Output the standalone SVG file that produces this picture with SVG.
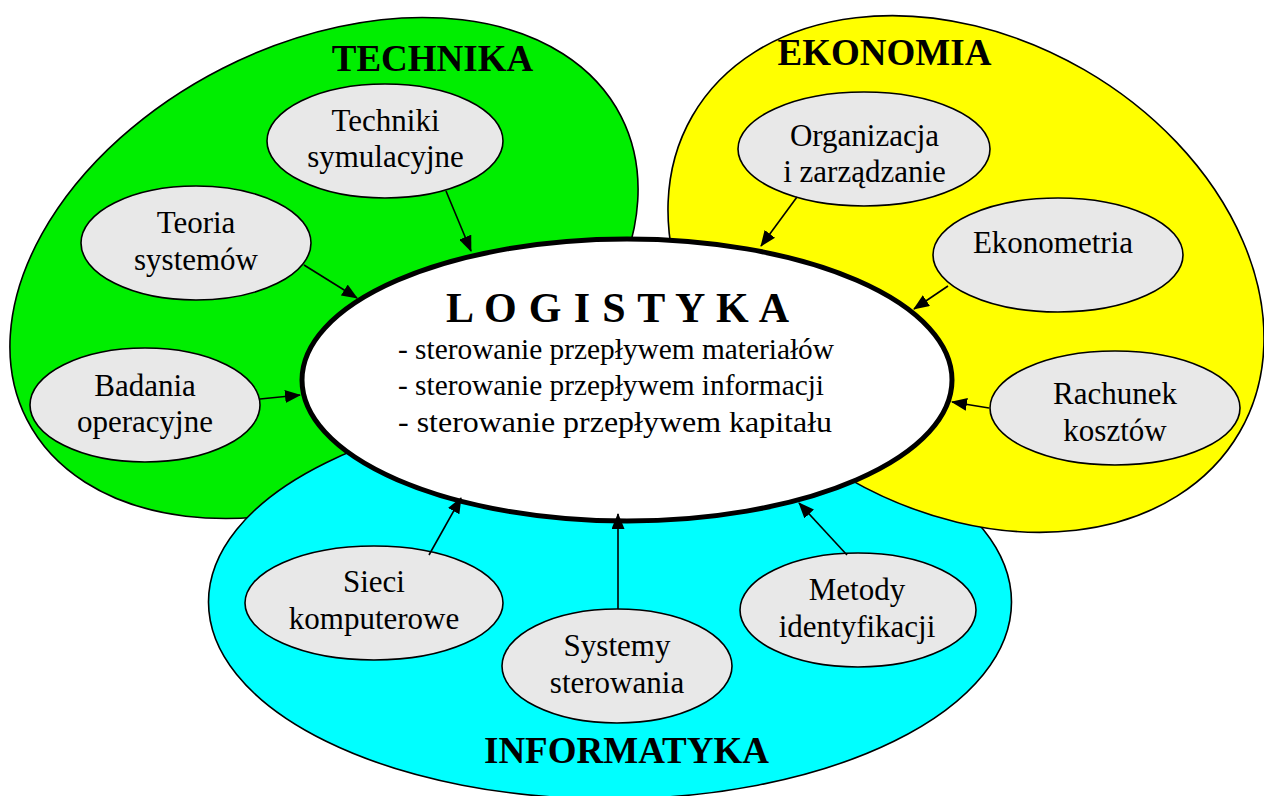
<svg xmlns="http://www.w3.org/2000/svg" width="1264" height="796" viewBox="0 0 1264 796">
<defs>
<marker id="ah" markerWidth="16" markerHeight="13" refX="15" refY="6.5" orient="auto" markerUnits="userSpaceOnUse">
<path d="M0,0 L16,6.5 L0,13 z" fill="#000"/>
</marker>
<style>
.region{stroke:#000;stroke-width:1.6}
.title{font-family:"Liberation Serif","Times New Roman",serif;font-weight:bold;font-size:37px;text-anchor:middle;fill:#000}
.node ellipse{fill:#e8e8e8;stroke:#000;stroke-width:1.6}
.node text{font-family:"Liberation Serif","Times New Roman",serif;font-size:31px;text-anchor:middle;fill:#000}
.center text{font-family:"Liberation Serif","Times New Roman",serif;fill:#000}
.conn line{stroke:#000;stroke-width:1.6;marker-end:url(#ah)}
</style>
</defs>
<rect width="1264" height="796" fill="#fff"/>

<g id="technika">
<ellipse class="region" cx="324" cy="268" rx="333.5" ry="224" transform="rotate(-27 324 268)" fill="#00ee00"/>
<text class="title" x="432.5" y="71">TECHNIKA</text>
</g>

<g id="informatyka">
<ellipse class="region" cx="610" cy="602" rx="401.5" ry="197" fill="#00ffff"/>
<text class="title" x="626.5" y="763">INFORMATYKA</text>
</g>

<g id="ekonomia">
<ellipse class="region" cx="966" cy="274" rx="316" ry="236" transform="rotate(30 966 274)" fill="#ffff00"/>
<text class="title" x="884.5" y="65">EKONOMIA</text>
</g>

<g id="logistyka" class="center">
<ellipse cx="627" cy="380" rx="325" ry="141" fill="#fff" stroke="#000" stroke-width="5"/>
<text x="617.5" y="322" font-size="42" font-weight="bold" text-anchor="middle" textLength="343" lengthAdjust="spacing">L O G I S T Y K A</text>
<text x="398" y="359" font-size="29.5" textLength="436" lengthAdjust="spacingAndGlyphs">- sterowanie przepływem materiałów</text>
<text x="398" y="395" font-size="29.5" textLength="426" lengthAdjust="spacingAndGlyphs">- sterowanie przepływem informacji</text>
<text x="398" y="432" font-size="29.5" textLength="434" lengthAdjust="spacingAndGlyphs">- sterowanie przepływem kapitału</text>
</g>

<g id="techniki-symulacyjne" class="node">
<ellipse cx="385" cy="141" rx="118" ry="57"/>
<text x="385.5" y="131">Techniki</text>
<text x="385.5" y="167">symulacyjne</text>
</g>
<g id="teoria-systemow" class="node">
<ellipse cx="196" cy="243" rx="115" ry="57"/>
<text x="196" y="233">Teoria</text>
<text x="196" y="270">systemów</text>
</g>
<g id="badania-operacyjne" class="node">
<ellipse cx="145" cy="405" rx="115" ry="57"/>
<text x="145" y="396">Badania</text>
<text x="145" y="432">operacyjne</text>
</g>
<g id="organizacja" class="node">
<ellipse cx="864" cy="149" rx="126" ry="57"/>
<text x="864.5" y="146">Organizacja</text>
<text x="864.5" y="182">i zarządzanie</text>
</g>
<g id="ekonometria" class="node">
<ellipse cx="1058" cy="255" rx="125" ry="57"/>
<text x="1053" y="253">Ekonometria</text>
</g>
<g id="rachunek-kosztow" class="node">
<ellipse cx="1115" cy="408" rx="125" ry="57"/>
<text x="1115" y="404">Rachunek</text>
<text x="1115" y="441">kosztów</text>
</g>
<g id="sieci-komputerowe" class="node">
<ellipse cx="374" cy="603" rx="129" ry="57"/>
<text x="374" y="592">Sieci</text>
<text x="374" y="629">komputerowe</text>
</g>
<g id="systemy-sterowania" class="node">
<ellipse cx="617" cy="666" rx="115" ry="57"/>
<text x="617" y="656">Systemy</text>
<text x="617" y="693">sterowania</text>
</g>
<g id="metody-identyfikacji" class="node">
<ellipse cx="858" cy="610" rx="118" ry="57"/>
<text x="857" y="600">Metody</text>
<text x="857" y="637">identyfikacji</text>
</g>

<g id="connectors" class="conn">
<line x1="446" y1="191" x2="471" y2="251"/>
<line x1="304" y1="265" x2="357" y2="298"/>
<line x1="260" y1="399" x2="300" y2="395"/>
<line x1="797" y1="197" x2="761" y2="246"/>
<line x1="948" y1="286" x2="914" y2="309"/>
<line x1="989" y1="408" x2="952" y2="402"/>
<line x1="429" y1="555" x2="461" y2="498"/>
<line x1="618" y1="609" x2="618" y2="514"/>
<line x1="847" y1="555" x2="799" y2="503"/>
</g>
</svg>
